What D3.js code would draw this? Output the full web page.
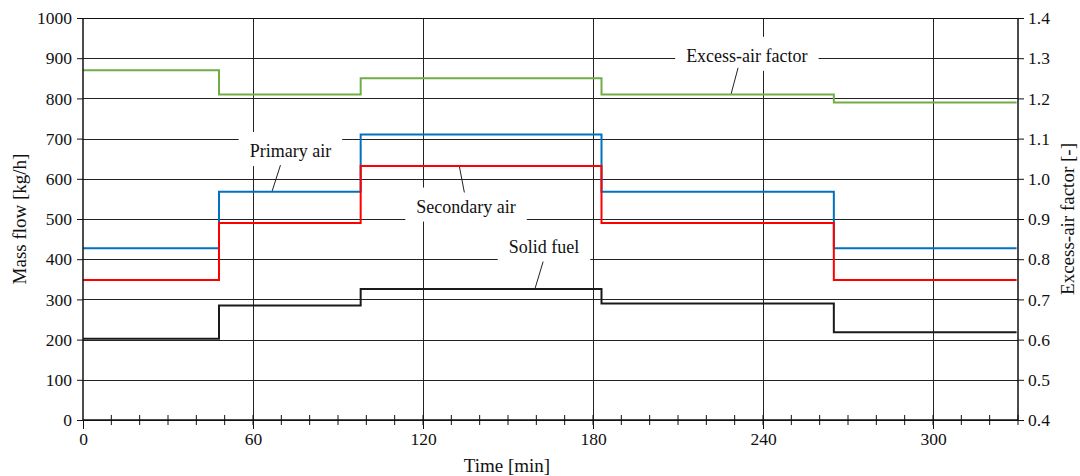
<!DOCTYPE html>
<html>
<head>
<meta charset="utf-8">
<script src="https://cdn.jsdelivr.net/npm/d3@7"></script>
<style>
  body { margin: 0; background: #fff; }
  svg { display: block; }
  svg text { font-family: "Liberation Serif", "Times New Roman", Times, "DejaVu Serif", serif; }
</style>
</head>
<body>
<svg id="chart" width="1080" height="476"></svg>
<script>
// step edges in minutes (last one is where the traces stop)
var stepTimes = [0, 48, 98, 183, 265, 329.5];
// levels held between the edges
var primaryAir = [427, 568, 710, 568, 427];
var secondaryAir = [348, 490, 632, 490, 348];
var solidFuel = [202, 285, 326, 290, 218];
var excessAir = [1.27, 1.21, 1.25, 1.21, 1.19];

var massTicks = [0, 100, 200, 300, 400, 500, 600, 700, 800, 900, 1000];
var lambdaTicks = [0.4, 0.5, 0.6, 0.7, 0.8, 0.9, 1.0, 1.1, 1.2, 1.3, 1.4];
var timeTicks = [0, 60, 120, 180, 240, 300];

// annotations: [text, text x(min), baseline(kg/h), leader from (min, kg/h), leader to (min, kg/h)]
var labels = [
  ["Primary air", 73.2, 654, [69.7, 634], [66.7, 568]],
  ["Secondary air", 135.2, 516, [134.6, 566], [132.8, 632]],
  ["Solid fuel", 162.7, 416, [162.4, 394], [159.5, 326]],
  ["Excess-air factor", 234.3, 891, [231.2, 876], [228.7, 810]]
];

var svg = d3.select("#chart");
var mLeft = 83, mRight = 1018, mTop = 18, mBottom = 420;
var serif = "'Liberation Serif', 'Times New Roman', Times, serif";

var x = d3.scaleLinear().domain([0, 330]).range([mLeft, mRight]);
var y = d3.scaleLinear().domain([0, 1000]).range([mBottom, mTop]);
var y2 = d3.scaleLinear().domain([0.4, 1.4]).range([mBottom, mTop]);

//grid
var grid = svg.append("g").attr("stroke", "#222").attr("stroke-width", 1);
grid.selectAll(".h").data(massTicks).enter().append("line")
  .attr("x1", mLeft).attr("x2", mRight)
  .attr("y1", function(d) { return Math.round(y(d)) + 0.5; })
  .attr("y2", function(d) { return Math.round(y(d)) + 0.5; });
grid.selectAll(".v").data(timeTicks.slice(1)).enter().append("line")
  .attr("y1", mTop).attr("y2", mBottom)
  .attr("x1", function(d) { return Math.round(x(d)) + 0.5; })
  .attr("x2", function(d) { return Math.round(x(d)) + 0.5; });

// white boxes behind the annotation texts (cut the grid)
var ann = svg.append("g").attr("font-size", 18).attr("fill", "#111").attr("font-family", serif);
var annG = ann.selectAll("g").data(labels).enter().append("g");
annG.append("rect").attr("fill", "#fff");
annG.append("text")
  .attr("text-anchor", "middle")
  .attr("x", function(d) { return x(d[1]); })
  .attr("y", function(d) { return y(d[2]); })
  .text(function(d) { return d[0]; });
annG.each(function() {
  var g = d3.select(this);
  var b = g.select("text").node().getBBox();
  g.select("rect")
    .attr("x", b.x - 11).attr("width", b.width + 22)
    .attr("y", b.y - 9).attr("height", b.height + 14);
});
annG.append("line")
  .attr("stroke", "#222").attr("stroke-width", 1)
  .attr("x1", function(d) { return x(d[3][0]); })
  .attr("y1", function(d) { return y(d[3][1]); })
  .attr("x2", function(d) { return x(d[4][0]); })
  .attr("y2", function(d) { return y(d[4][1]); });

// step traces
function stepData(vals) {
  var pts = vals.map(function(v, i) { return [stepTimes[i], v]; });
  pts.push([stepTimes[stepTimes.length - 1], vals[vals.length - 1]]);
  return pts;
}
var massLine = d3.line().curve(d3.curveStepAfter)
  .x(function(d) { return x(d[0]); }).y(function(d) { return y(d[1]); });
var lambdaLine = d3.line().curve(d3.curveStepAfter)
  .x(function(d) { return x(d[0]); }).y(function(d) { return y2(d[1]); });

var series = [
  [excessAir, "#70ad47", lambdaLine],
  [primaryAir, "#0070c0", massLine],
  [secondaryAir, "#ff0000", massLine],
  [solidFuel, "#1a1a1a", massLine]
];
series.forEach(function(s) {
  svg.append("path")
    .datum(stepData(s[0]))
    .attr("fill", "none")
    .attr("stroke", s[1])
    .attr("stroke-width", 2)
    .attr("d", s[2]);
});

// axes
var axes = svg.append("g");

var yAxis = d3.axisLeft(y).tickValues(massTicks).tickSize(6).tickPadding(5)
  .tickFormat(d3.format("d"));
axes.append("g").attr("transform", "translate(" + mLeft + ",0)").call(yAxis);

var y2Axis = d3.axisRight(y2).tickValues(lambdaTicks).tickSize(6).tickPadding(4)
  .tickFormat(d3.format(".1f"));
axes.append("g").attr("transform", "translate(" + mRight + ",0)").call(y2Axis);

// minor time ticks crossing the axis
axes.append("g").selectAll("line").data(d3.range(10, 331, 10)).enter().append("line")
  .attr("stroke", "#111")
  .attr("x1", function(d) { return x(d); }).attr("x2", function(d) { return x(d); })
  .attr("y1", mBottom - 5).attr("y2", mBottom + 5);

var xAxis = d3.axisBottom(x).tickValues(timeTicks).tickSize(9).tickPadding(4);
axes.append("g").attr("transform", "translate(0," + mBottom + ")").call(xAxis);

axes.selectAll("path.domain").remove();
axes.selectAll(".tick line").attr("stroke", "#111");
axes.selectAll("g").attr("font-size", null).attr("font-family", serif);
axes.selectAll("text").attr("fill", "#111").attr("font-family", serif)
  .style("font-size", "17.5px");

// frame
var frame = svg.append("g").attr("stroke", "#111").attr("stroke-width", 1.5);
frame.selectAll(".fv").data([mLeft, mRight]).enter().append("line")
  .attr("x1", function(d) { return d; }).attr("x2", function(d) { return d; })
  .attr("y1", mTop).attr("y2", mBottom);
frame.append("line").attr("x1", mLeft).attr("x2", mRight).attr("y1", mBottom).attr("y2", mBottom);
frame.append("line").attr("stroke-width", 1)
  .attr("x1", mLeft).attr("x2", mRight).attr("y1", mTop + 0.5).attr("y2", mTop + 0.5);

// titles
var titles = svg.append("g").attr("font-size", 19).attr("fill", "#111")
  .attr("font-family", serif).attr("text-anchor", "middle");
titles.append("text")
  .attr("transform", "translate(26," + ((mTop + mBottom) / 2) + ") rotate(-90)")
  .text("Mass flow [kg/h]");
titles.append("text")
  .attr("transform", "translate(1074," + ((mTop + mBottom) / 2) + ") rotate(-90)")
  .text("Excess-air factor [-]");
titles.append("text")
  .attr("x", 507).attr("y", 472)
  .text("Time [min]");
</script>
</body>
</html>
